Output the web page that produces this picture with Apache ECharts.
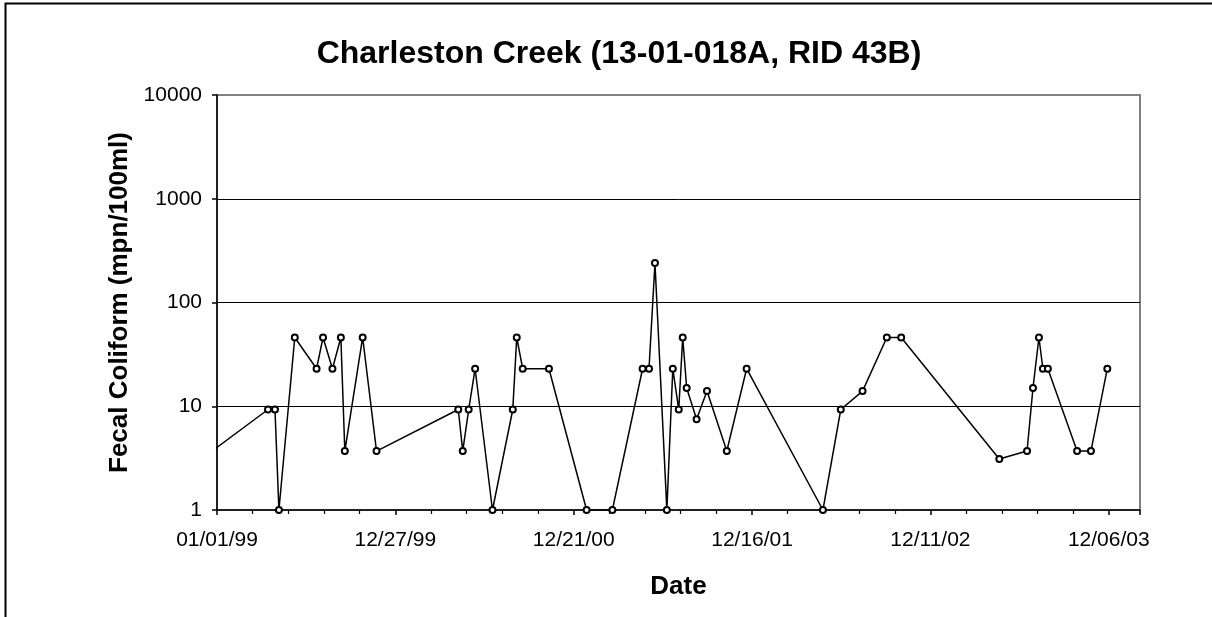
<!DOCTYPE html>
<html>
<head>
<meta charset="utf-8">
<script src="https://cdn.jsdelivr.net/npm/echarts@6/dist/echarts.min.js"></script>
<style>
html,body{margin:0;padding:0;background:#fff;}
#chart{width:1212px;height:617px;}
</style>
</head>
<body>
<div id="chart"></div>
<script>
// sample dates and fecal coliform counts (mpn/100ml)
var dates = [
    '1998-07-15',
    '1999-04-14','1999-04-28','1999-05-06','1999-06-07','1999-07-21','1999-08-03','1999-08-22',
    '1999-09-08','1999-09-16','1999-10-22','1999-11-19',
    '2000-05-02','2000-05-11','2000-05-23','2000-06-05','2000-07-10','2000-08-20','2000-08-28',
    '2000-09-09','2000-11-01',
    '2001-01-16','2001-03-09','2001-05-09','2001-05-22','2001-06-03','2001-06-27','2001-07-09',
    '2001-07-21','2001-07-29','2001-08-06','2001-08-26','2001-09-16','2001-10-26','2001-12-05',
    '2002-05-08','2002-06-13','2002-07-27','2002-09-14','2002-10-13',
    '2003-04-29','2003-06-24','2003-07-06','2003-07-18','2003-07-26','2003-08-05','2003-10-03',
    '2003-10-31','2003-12-03'
];
var counts = [
    1,
    9.3, 9.3, 1, 46, 23, 46, 23,
    46, 3.7, 46, 3.7,
    9.3, 3.7, 9.3, 23, 1, 9.3, 46,
    23, 23,
    1, 1, 23, 23, 240, 1, 23,
    9.3, 46, 15, 7.5, 14, 3.7, 23,
    1, 9.3, 14, 46, 46,
    3.1, 3.7, 15, 46, 23, 23, 3.7,
    3.7, 23
];
var yTicks = [1, 10, 100, 1000, 10000];

var DAY = 86400000;
var xStart = Date.UTC(1999, 0, 1);
var xEnd = Date.UTC(2004, 1, 7);

function pad(n){ return (n < 10 ? '0' : '') + n; }
function fmtDate(v){
    var d = new Date(v);
    return pad(d.getUTCMonth() + 1) + '/' + pad(d.getUTCDate()) + '/' + pad(d.getUTCFullYear() % 100);
}

var points = [];
for (let i = 0; i < dates.length; i++){
    points.push([Date.parse(dates[i]), counts[i]]);
}

var font = 'Liberation Sans, Arial, sans-serif';
var chart = echarts.init(document.getElementById('chart'), null, {renderer: 'canvas'});

var option = {
    backgroundColor: '#fff',
    animation: false,
    title: {
        text: 'Charleston Creek (13-01-018A, RID 43B)',
        left: 614,
        top: 33,
        textAlign: 'center',
        textStyle: {fontFamily: font, fontSize: 32, fontWeight: 'bold', color: '#000'}
    },
    // outer frame of the chart sheet
    graphic: [{
        type: 'rect',
        shape: {x: 5.5, y: 3.5, width: 1220, height: 700},
        style: {fill: null, stroke: '#000', lineWidth: 2},
        silent: true
    }],
    grid: {
        left: 217, right: 72, top: 95, bottom: 107,
        show: true,
        borderColor: '#808080',
        borderWidth: 2
    },
    xAxis: {
        type: 'value',
        min: xStart,
        max: xEnd,
        interval: 360 * DAY,
        name: 'Date',
        nameLocation: 'middle',
        nameGap: 64,
        nameTextStyle: {fontFamily: font, fontSize: 26, fontWeight: 'bold', color: '#000'},
        axisLine: {show: true, lineStyle: {color: '#000', width: 1.5}},
        axisTick: {show: true, length: 5, lineStyle: {color: '#000', width: 1.5}},
        minorTick: {show: true, splitNumber: 5, length: 4, lineStyle: {color: '#000', width: 1.2}},
        axisLabel: {
            showMaxLabel: false,
            margin: 20,
            fontFamily: font, fontSize: 21, color: '#000',
            formatter: function (v){ return fmtDate(v); }
        },
        splitLine: {show: false}
    },
    yAxis: {
        type: 'log',
        logBase: 10,
        min: yTicks[0],
        max: yTicks[yTicks.length - 1],
        name: 'Fecal Coliform (mpn/100ml)',
        nameLocation: 'middle',
        nameGap: 84,
        nameTextStyle: {fontFamily: font, fontSize: 26, fontWeight: 'bold', color: '#000'},
        axisLine: {show: true, lineStyle: {color: '#000', width: 1.5}},
        axisTick: {show: true, length: 5, lineStyle: {color: '#000', width: 1.5}},
        axisLabel: {
            margin: 15, fontFamily: font, fontSize: 21, color: '#000',
            formatter: function (v){ return String(Math.round(v)); }
        },
        splitLine: {show: true, showMinLine: false, showMaxLine: false, lineStyle: {color: '#000', width: 1}}
    },
    series: [{
        type: 'line',
        data: points,
        clip: true,
        symbol: 'emptyCircle',
        symbolSize: 6,
        lineStyle: {color: '#000', width: 1.5},
        itemStyle: {color: '#000', borderColor: '#000', borderWidth: 1.5}
    }]
};
chart.setOption(option);
</script>
</body>
</html>
